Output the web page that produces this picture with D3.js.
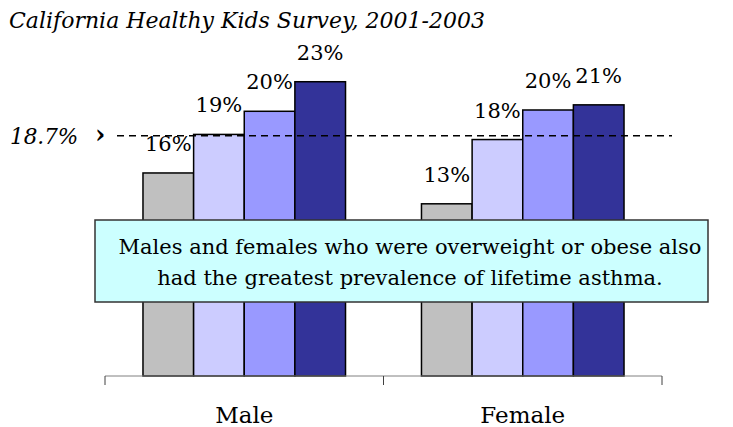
<!DOCTYPE html>
<html>
<head>
<meta charset="utf-8">
<script src="https://cdn.jsdelivr.net/npm/d3@7"></script>
<style>
  body { margin: 0; background: #fff; }
  text { font-family: "DejaVu Serif", serif; fill: #000; }
</style>
</head>
<body>
<svg id="chart" width="733" height="427"></svg>
<script>
// data
var groups = ["Male", "Female"];
var series = ["s1", "s2", "s3", "s4"];
var maleVals = [15.8, 18.8, 20.6, 22.9];
var femaleVals = [13.4, 18.4, 20.7, 21.1];
var maleLabels = ["16%", "19%", "20%", "23%"];
var femaleLabels = ["13%", "18%", "20%", "21%"];
var refValue = 18.7;
var refLabel = "18.7%";
var colors = ["#c0c0c0", "#ccccff", "#9999ff", "#333399"];
var title = "California Healthy Kids Survey, 2001-2003";
var note = ["Males and females who were overweight or obese also",
            "had the greatest prevalence of lifetime asthma."];

var svg = d3.select("#chart");

var rows = [
  {group: "Male", vals: maleVals, labels: maleLabels},
  {group: "Female", vals: femaleVals, labels: femaleLabels}
];

var x0 = d3.scaleBand().domain(groups).range([105, 662]).padding(0);
var x1 = d3.scaleBand().domain(series).range([0, x0.bandwidth()])
  .paddingInner(0).paddingOuter(0.75);
var y = d3.scaleLinear().domain([0, 18.7]).range([376, 135.7]);

// title
svg.append("text")
  .attr("x", 9).attr("y", 28)
  .style("font-style", "italic")
  .style("font-size", "22px")
  .text(title);

// bars
var g = svg.selectAll(".grp")
  .data(rows)
  .enter().append("g")
  .attr("class", "grp")
  .attr("transform", function(d) { return "translate(" + x0(d.group) + ",0)"; });

function cells(d) {
  return d.vals.map(function(v, i) { return {v: v, i: i, label: d.labels[i]}; });
}

g.selectAll("rect")
  .data(cells)
  .enter().append("rect")
  .attr("x", function(d) { return x1(series[d.i]); })
  .attr("y", function(d) { return y(d.v); })
  .attr("width", x1.bandwidth())
  .attr("height", function(d) { return y(0) - y(d.v); })
  .attr("fill", function(d) { return colors[d.i]; })
  .attr("stroke", "#000")
  .attr("stroke-width", 1.5);

g.selectAll(".lbl")
  .data(cells)
  .enter().append("text")
  .attr("class", "lbl")
  .attr("x", function(d) { return x1(series[d.i]) + x1.bandwidth() / 2; })
  .attr("y", function(d) { return y(d.v) - 22; })
  .attr("text-anchor", "middle")
  .style("font-size", "21px")
  .text(function(d) { return d.label; });

// reference line
svg.append("line")
  .attr("x1", 117).attr("x2", 672)
  .attr("y1", y(refValue)).attr("y2", y(refValue))
  .attr("stroke", "#000")
  .attr("stroke-width", 1.5)
  .attr("stroke-dasharray", "7,5");

svg.append("text")
  .attr("x", 10).attr("y", y(refValue) + 8)
  .style("font-style", "italic")
  .style("font-size", "21.5px")
  .text(refLabel);

svg.append("text")
  .attr("x", 95).attr("y", y(refValue) + 7)
  .style("font-size", "26px")
  .style("font-weight", "bold")
  .text("\u203A");

// axis
var axis = svg.append("g");
axis.append("line")
  .attr("x1", 105).attr("x2", 662)
  .attr("y1", 376).attr("y2", 376)
  .attr("stroke", "#808080").attr("stroke-width", 1);
var tickXs = [x0(groups[0]), x0(groups[1]), x0(groups[1]) + x0.bandwidth()];
axis.selectAll(".tick")
  .data(tickXs)
  .enter().append("line")
  .attr("x1", function(d) { return d; }).attr("x2", function(d) { return d; })
  .attr("y1", 376).attr("y2", 385)
  .attr("stroke", "#404040").attr("stroke-width", 1);
axis.selectAll(".cat")
  .data(groups)
  .enter().append("text")
  .attr("x", function(d) { return x0(d) + x0.bandwidth() / 2; })
  .attr("y", 423)
  .attr("text-anchor", "middle")
  .style("font-size", "23px")
  .text(function(d) { return d; });

// annotation box
svg.append("rect")
  .attr("x", 95).attr("y", 220)
  .attr("width", 613).attr("height", 82)
  .attr("fill", "#ccffff")
  .attr("stroke", "#333")
  .attr("stroke-width", 1.5);

svg.selectAll(".note")
  .data(note)
  .enter().append("text")
  .attr("class", "note")
  .attr("x", 410)
  .attr("y", function(d, i) { return 254 + i * 31; })
  .attr("text-anchor", "middle")
  .style("font-size", "21px")
  .text(function(d) { return d; });
</script>
</body>
</html>
